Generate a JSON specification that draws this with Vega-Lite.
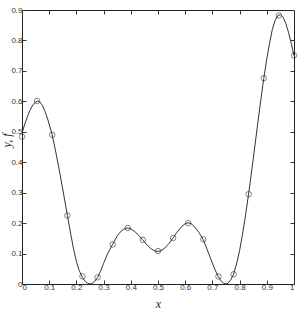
{
  "$schema": "https://vega.github.io/schema/vega-lite/v6.json",
  "width": 272,
  "height": 274,
  "autosize": {"type": "none"},
  "padding": {"left": 22, "top": 10, "right": 7, "bottom": 25},
  "background": "white",
  "config": {
    "view": {"stroke": "#222", "strokeWidth": 1},
    "axis": {
      "domain": false,
      "grid": false,
      "tickColor": "#333",
      "tickSize": -4,
      "format": "~g",
      "labelFont": "Liberation Sans",
      "labelFontSize": 8,
      "labelColor": "#333",
      "titleFont": "Liberation Serif",
      "titleFontStyle": "italic",
      "titleFontWeight": "normal",
      "titleFontSize": 12,
      "titleColor": "#222"
    }
  },
  "datasets": {
    "curve": [
      {"x": 0, "y": 0.495}, {"x": 0.01, "y": 0.525}, {"x": 0.02, "y": 0.55}, {"x": 0.03, "y": 0.572},
      {"x": 0.04, "y": 0.588}, {"x": 0.05, "y": 0.598}, {"x": 0.056, "y": 0.601}, {"x": 0.065, "y": 0.598},
      {"x": 0.075, "y": 0.587}, {"x": 0.085, "y": 0.566}, {"x": 0.095, "y": 0.54}, {"x": 0.111, "y": 0.49},
      {"x": 0.125, "y": 0.43}, {"x": 0.14, "y": 0.36}, {"x": 0.155, "y": 0.285}, {"x": 0.167, "y": 0.225},
      {"x": 0.18, "y": 0.16}, {"x": 0.19, "y": 0.113}, {"x": 0.2, "y": 0.074}, {"x": 0.21, "y": 0.045},
      {"x": 0.222, "y": 0.022}, {"x": 0.232, "y": 0.009}, {"x": 0.242, "y": 0.002}, {"x": 0.25, "y": 0.0},
      {"x": 0.258, "y": 0.002}, {"x": 0.268, "y": 0.009}, {"x": 0.278, "y": 0.022}, {"x": 0.29, "y": 0.045},
      {"x": 0.3, "y": 0.068}, {"x": 0.315, "y": 0.1}, {"x": 0.333, "y": 0.13}, {"x": 0.35, "y": 0.158},
      {"x": 0.365, "y": 0.174}, {"x": 0.378, "y": 0.182}, {"x": 0.389, "y": 0.184}, {"x": 0.4, "y": 0.181},
      {"x": 0.415, "y": 0.172}, {"x": 0.43, "y": 0.159}, {"x": 0.444, "y": 0.145}, {"x": 0.46, "y": 0.128},
      {"x": 0.475, "y": 0.115}, {"x": 0.49, "y": 0.108}, {"x": 0.5, "y": 0.107}, {"x": 0.51, "y": 0.109},
      {"x": 0.525, "y": 0.118}, {"x": 0.54, "y": 0.133}, {"x": 0.556, "y": 0.152}, {"x": 0.57, "y": 0.17},
      {"x": 0.585, "y": 0.187}, {"x": 0.6, "y": 0.198}, {"x": 0.611, "y": 0.201}, {"x": 0.622, "y": 0.198},
      {"x": 0.635, "y": 0.187}, {"x": 0.65, "y": 0.17}, {"x": 0.667, "y": 0.145}, {"x": 0.68, "y": 0.115},
      {"x": 0.695, "y": 0.08}, {"x": 0.71, "y": 0.046}, {"x": 0.722, "y": 0.024}, {"x": 0.732, "y": 0.01},
      {"x": 0.742, "y": 0.002}, {"x": 0.75, "y": 0.0}, {"x": 0.758, "y": 0.003}, {"x": 0.768, "y": 0.014},
      {"x": 0.778, "y": 0.033}, {"x": 0.79, "y": 0.07}, {"x": 0.8, "y": 0.11}, {"x": 0.81, "y": 0.16},
      {"x": 0.82, "y": 0.215}, {"x": 0.833, "y": 0.295}, {"x": 0.845, "y": 0.375}, {"x": 0.86, "y": 0.48},
      {"x": 0.875, "y": 0.585}, {"x": 0.889, "y": 0.676}, {"x": 0.9, "y": 0.74}, {"x": 0.91, "y": 0.79},
      {"x": 0.92, "y": 0.835}, {"x": 0.93, "y": 0.865}, {"x": 0.94, "y": 0.881}, {"x": 0.95, "y": 0.885},
      {"x": 0.96, "y": 0.876}, {"x": 0.97, "y": 0.856}, {"x": 0.98, "y": 0.826}, {"x": 0.99, "y": 0.79},
      {"x": 1, "y": 0.75}
    ],
    "pts": [
      {"x": 0, "y": 0.484}, {"x": 0.0556, "y": 0.601}, {"x": 0.1111, "y": 0.49}, {"x": 0.1667, "y": 0.225},
      {"x": 0.2222, "y": 0.025}, {"x": 0.2778, "y": 0.022}, {"x": 0.3333, "y": 0.13}, {"x": 0.3889, "y": 0.184},
      {"x": 0.4444, "y": 0.145}, {"x": 0.5, "y": 0.108}, {"x": 0.5556, "y": 0.151}, {"x": 0.6111, "y": 0.2},
      {"x": 0.6667, "y": 0.147}, {"x": 0.7222, "y": 0.025}, {"x": 0.7778, "y": 0.032}, {"x": 0.8333, "y": 0.295},
      {"x": 0.8889, "y": 0.676}, {"x": 0.9444, "y": 0.882}, {"x": 1, "y": 0.751}
    ]
  },
  "layer": [
    {
      "data": {"name": "curve"},
      "mark": {"type": "line", "color": "#333", "strokeWidth": 1, "clip": true},
      "encoding": {
        "x": {"field": "x", "type": "quantitative", "scale": {"domain": [0, 1], "nice": false},
          "axis": {"orient": "bottom", "title": "x", "values": [0,0.1,0.2,0.3,0.4,0.5,0.6,0.7,0.8,0.9,1], "labelPadding": 3, "titleY": 23, "titleBaseline": "alphabetic"}},
        "y": {"field": "y", "type": "quantitative", "scale": {"domain": [0, 0.9], "nice": false},
          "axis": {"orient": "left", "title": "y, f", "values": [0,0.1,0.2,0.3,0.4,0.5,0.6,0.7,0.8,0.9], "labelPadding": 4, "titleX": -16, "titleY": 130, "titleBaseline": "middle"}}
      }
    },
    {
      "data": {"name": "pts"},
      "mark": {"type": "point", "shape": "circle", "filled": false, "stroke": "#222", "strokeWidth": 0.8, "size": 30},
      "encoding": {
        "x": {"field": "x", "type": "quantitative",
          "axis": {"orient": "top", "title": null, "labels": false, "values": [0,0.1,0.2,0.3,0.4,0.5,0.6,0.7,0.8,0.9,1]}},
        "y": {"field": "y", "type": "quantitative",
          "axis": {"orient": "right", "title": null, "labels": false, "values": [0,0.1,0.2,0.3,0.4,0.5,0.6,0.7,0.8,0.9]}}
      }
    }
  ],
  "resolve": {"axis": {"x": "independent", "y": "independent"}}
}
